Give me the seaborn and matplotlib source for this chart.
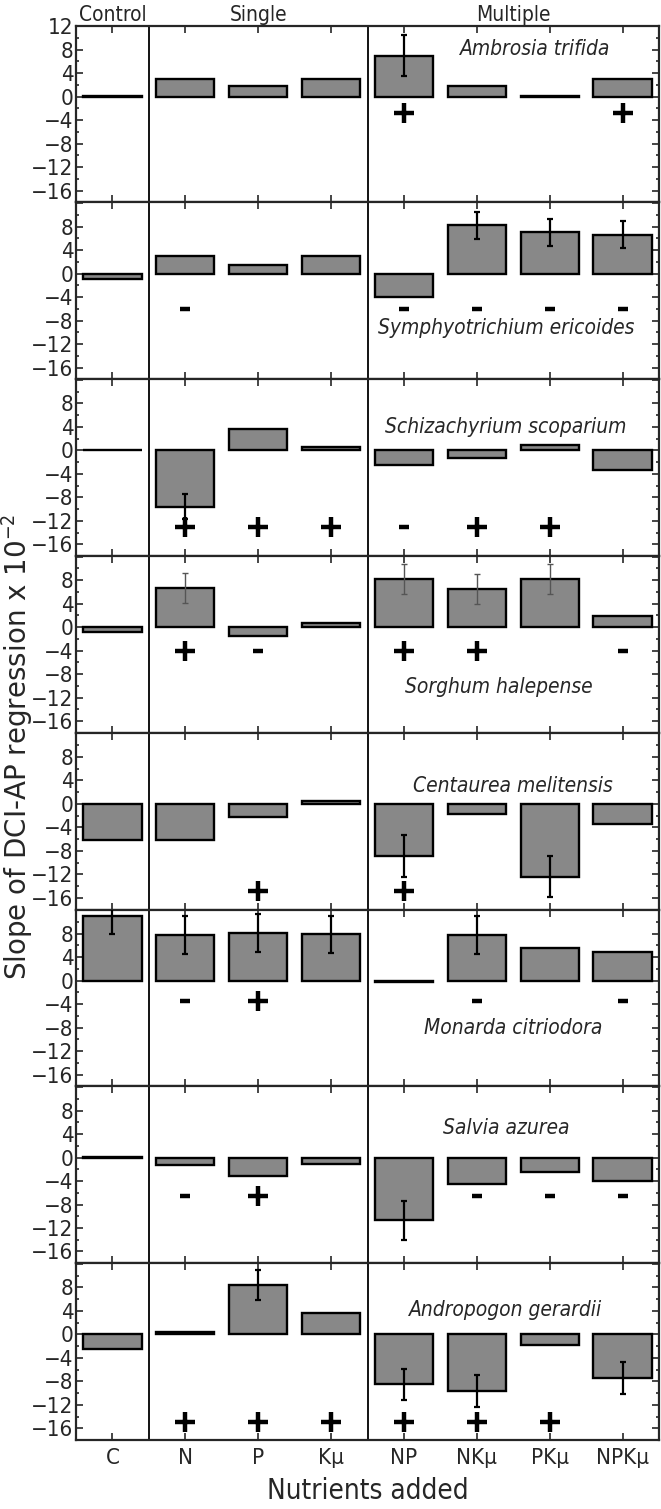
import numpy as np
import pandas as pd
import matplotlib
matplotlib.use('Agg')
import matplotlib.pyplot as plt
from matplotlib import font_manager as fm
from matplotlib.ticker import MultipleLocator
import seaborn as sns

nutrients = ['C', 'N', 'P', 'Kμ', 'NP', 'NKμ', 'PKμ', 'NPKμ']
groups = ['Control', 'Single', 'Multiple']

species = ['Ambrosia trifida', 'Symphyotrichium ericoides', 'Schizachyrium scoparium',
           'Sorghum halepense', 'Centaurea melitensis', 'Monarda citriodora',
           'Salvia azurea', 'Andropogon gerardii']

# slope values (x 10^-2)
ambrosia = [0.15, 3.0, 1.8, 3.1, 7.0, 1.9, 0.15, 3.0]
symphyo = [-1.0, 3.0, 1.4, 2.9, -4.0, 8.2, 7.0, 6.6]
schizach = [0.1, -9.6, 3.7, 0.5, -2.5, -1.3, 0.9, -3.3]
sorghum = [-0.85, 6.6, -1.5, 0.7, 8.2, 6.5, 8.2, 1.9]
centaurea = [-6.2, -6.2, -2.2, 0.5, -8.9, -1.8, -12.4, -3.5]
monarda = [11.1, 7.8, 8.1, 7.9, -0.15, 7.8, 5.6, 4.9]
salvia = [0.15, -1.25, -3.1, -1.1, -10.7, -4.45, -2.5, -4.0]
andropogon = [-2.45, 0.4, 8.4, 3.55, -8.5, -9.65, -1.8, -7.4]

# standard errors (nan = no bar drawn)
n = np.nan
ambrosia_se = [n, n, n, n, 3.5, n, n, n]
symphyo_se = [n, n, n, n, n, 2.3, 2.3, 2.3]
schizach_se = [n, 2.1, n, n, n, n, n, n]
sorghum_se = [n, 2.55, n, n, 2.55, 2.55, 2.55, n]
centaurea_se = [n, n, n, n, 3.6, n, 3.5, n]
monarda_se = [3.2, 3.3, 3.2, 3.2, n, 3.25, n, n]
salvia_se = [n, n, n, n, 3.3, n, n, n]
andropogon_se = [n, n, 2.6, n, 2.6, 2.65, n, 2.7]

# significance signs under the bars
ambrosia_sig = ['', '', '', '', '+', '', '', '+']
symphyo_sig = ['', '-', '', '', '-', '-', '-', '-']
schizach_sig = ['', '+', '+', '+', '-', '+', '+', '']
sorghum_sig = ['', '+', '-', '', '+', '+', '', '-']
centaurea_sig = ['', '', '+', '', '+', '', '', '']
monarda_sig = ['', '-', '+', '', '', '-', '', '-']
salvia_sig = ['', '-', '+', '', '', '-', '-', '-']
andropogon_sig = ['', '+', '+', '+', '+', '+', '+', '']

values = [ambrosia, symphyo, schizach, sorghum, centaurea, monarda, salvia, andropogon]
errors = [ambrosia_se, symphyo_se, schizach_se, sorghum_se, centaurea_se, monarda_se,
          salvia_se, andropogon_se]
signs = [ambrosia_sig, symphyo_sig, schizach_sig, sorghum_sig, centaurea_sig, monarda_sig,
         salvia_sig, andropogon_sig]

# layout bits
sign_y = [-2.8, -6.0, -13.0, -4.0, -14.9, -3.4, -6.5, -15.0]
label_xy = [(5.8, 8.1), (5.4, -9.3), (5.4, 3.9), (5.3, -10.2),
            (5.5, 3.1), (5.5, -8.1), (5.4, 5.0), (5.4, 4.1)]

rows = []
for sp, vals in zip(species, values):
    for nut, v in zip(nutrients, vals):
        rows.append({'species': sp, 'nutrient': nut, 'slope': v})
df = pd.DataFrame(rows)

sns.set_style('ticks')
cond = [f for f in fm.fontManager.ttflist if f.fname.endswith('DejaVuSansCondensed.ttf')]
if cond:
    plt.rcParams['font.family'] = [cond[0].name]
    plt.rcParams['font.stretch'] = cond[0].stretch
else:
    plt.rcParams['font.family'] = ['DejaVu Sans']

fig = plt.figure(figsize=(6.61, 15.09), dpi=100)
axes = fig.subplots(8, 1)
fig.subplots_adjust(left=0.115, right=0.997, top=0.983, bottom=0.0457, hspace=0)

pos = np.arange(len(nutrients))
yt = np.arange(-16, 13, 4)
for i, ax in enumerate(axes):
    sub = df[df['species'] == species[i]]
    sns.barplot(data=sub, x='nutrient', y='slope', order=nutrients, color='#888888',
                saturation=1, edgecolor='black', linewidth=1.7, width=0.8,
                errorbar=None, ax=ax)
    se = np.array(errors[i], dtype=float)
    ok = ~np.isnan(se)
    ecol = '#555555' if i == 3 else 'black'
    elw = 1.0 if i == 3 else 1.6
    ax.errorbar(pos[ok], np.array(values[i])[ok], yerr=se[ok], fmt='none',
                ecolor=ecol, elinewidth=elw, capsize=2, capthick=elw, zorder=5)
    sig = np.array(signs[i])
    plus = sig == '+'
    minus = sig == '-'
    ax.plot(pos[plus], np.full(plus.sum(), sign_y[i]), ls='none', marker='+',
            ms=14, mew=3.2, color='black')
    ax.plot(pos[minus], np.full(minus.sum(), sign_y[i]), ls='none', marker='_',
            ms=7.5, mew=3.2, color='black')
    ax.text(label_xy[i][0], label_xy[i][1], species[i], ha='center', va='center',
            fontsize=15, style='italic')
    ax.axvline(0.5, color='black', lw=1.3)
    ax.axvline(3.5, color='black', lw=1.3)
    ax.set_xlim(-0.5, 7.5)
    ax.set_ylim(-18, 12.1)
    ax.set_yticks(yt)
    ax.yaxis.set_minor_locator(MultipleLocator(2))
    ax.set_yticklabels([('' if (t == 12 and i > 0) else str(t).replace('-', '\u2212')) for t in yt])
    ax.set_xlabel('')
    ax.set_ylabel('')
    ax.tick_params(axis='both', which='both', direction='in', top=True, right=True,
                   width=1.2, labelsize=16)
    ax.tick_params(which='major', length=5)
    ax.tick_params(which='minor', length=2.5)
    ax.tick_params(axis='x', labelbottom=(i == 7), pad=6)
    ax.tick_params(axis='y', pad=2)
    for sp in ax.spines.values():
        sp.set_linewidth(1.6)

top = axes[0]
for gx, g in zip([0, 2, 5.5], groups):
    top.text(gx, 1.003, g, transform=top.get_xaxis_transform(), ha='center',
             va='bottom', fontsize=15)

fig.text(0.026, 0.505, 'Slope of DCI-AP regression x 10$^{-2}$', rotation=90,
         ha='center', va='center', fontsize=20, fontstretch='normal')
fig.text(0.556, 0.0118, 'Nutrients added', ha='center', va='center', fontsize=20)

fig.savefig('out.png', dpi=100)
